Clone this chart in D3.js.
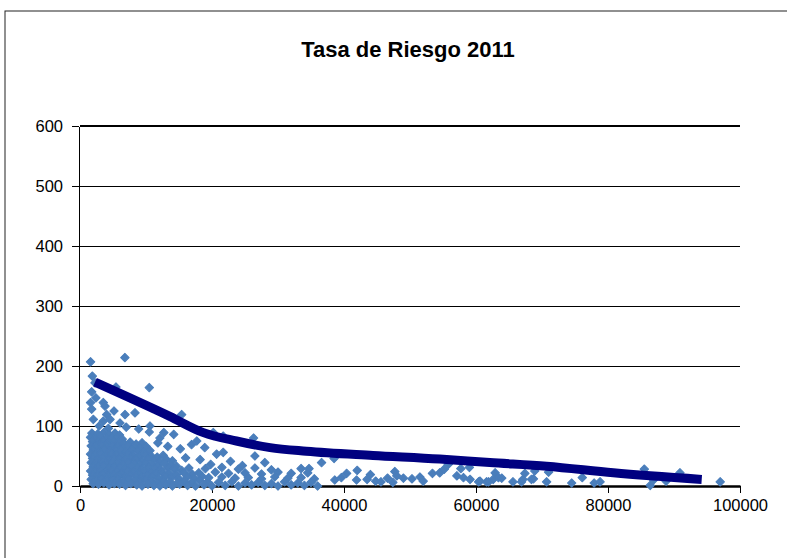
<!DOCTYPE html>
<html>
<head>
<meta charset="utf-8">
<script src="https://cdn.jsdelivr.net/npm/d3@7"></script>
<style>
  body { margin: 0; background: #fff; }
  text { font-family: "Liberation Sans", Arial, sans-serif; }
</style>
</head>
<body>
<div id="chart"></div>
<script>
const W = 787, H = 558;

const punto = "#4a7ebb";
const linea = "#000080";

const titulo = "Tasa de Riesgo 2011";
const ticksX = [0, 20000, 40000, 60000, 80000, 100000];
const ticksY = [0, 100, 200, 300, 400, 500, 600];

// scatter points [poblacion, tasa]
const puntos = [
  // sueltos arriba
  [1600,207],[6800,214],[1870,183],[2270,172],[1770,157],[2400,147],[1600,139],[3530,139],
  [3790,133],[5450,165],[10500,164],[1770,128],[4040,119],[5150,125],[6820,119],[8330,122],
  [2020,111],[3530,108],[4550,111],[6060,105],[10600,100],[2900,100],[4300,96],[7000,98],
  [8900,95],[10500,90],[12700,89],[14200,86],[15400,119],[20200,89],[21700,83],[26300,80],
  [16900,69],[17700,75],[18900,64],[20700,53],[21700,56],[26500,50],[28000,39],[16000,47],
  [18200,44],[22800,41],[24600,34],[19800,36],[15200,62],[13300,66],[11800,72],[12100,80],
  // bloque denso
  [1800,88],[2700,87],[3600,89],[4400,86],[5300,88],[6000,85],
  [1600,81],[2300,80],[3100,82],[4000,79],[4800,81],[5600,80],[6400,78],
  [1900,74],[2800,73],[3500,75],[4300,72],[5100,74],[5900,73],[6700,71],[7600,73],[8500,70],[9400,72],
  [1700,67],[2500,66],[3300,68],[4100,65],[4900,67],[5700,66],[6500,64],[7300,67],[8200,65],[9100,63],[10000,66],
  [2000,60],[2900,59],[3700,61],[4600,58],[5400,60],[6200,59],[7000,57],[7900,60],[8800,58],[9700,56],[10600,59],
  [1600,53],[2400,52],[3200,54],[4000,51],[4800,53],[5600,52],[6400,50],[7300,53],[8100,51],[9000,49],[9900,52],[10800,50],[11700,48],[12600,51],
  [1900,46],[2700,45],[3500,47],[4400,44],[5200,46],[6000,45],[6800,43],[7700,46],[8500,44],[9400,42],[10300,45],[11200,43],[12100,41],[13100,44],[14000,42],
  [1700,39],[2500,38],[3300,40],[4100,37],[4900,39],[5800,38],[6600,36],[7400,39],[8300,37],[9100,35],[10000,38],[10900,36],[11800,34],[12800,37],[13700,35],[14600,33],
  [2000,32],[2800,31],[3600,33],[4500,30],[5300,32],[6100,31],[6900,29],[7800,32],[8700,30],[9500,28],[10400,31],[11300,29],[12200,27],[13300,30],[14300,28],[15400,26],
  [1600,25],[2400,24],[3200,26],[4000,23],[4800,25],[5600,24],[6400,22],[7200,25],[8100,23],[9000,21],[9800,24],[10700,22],[11600,20],[12500,23],[13500,21],[14600,19],[15800,22],[17000,20],
  [1900,18],[2700,17],[3500,19],[4300,16],[5100,18],[5900,17],[6800,15],[7600,18],[8500,16],[9300,14],[10200,17],[11000,15],[11900,13],[12900,16],[13900,14],[15000,12],[16200,15],[17300,13],[18500,16],
  [1700,11],[2500,10],[3300,12],[4100,9],[5000,11],[5800,10],[6600,8],[7400,11],[8300,9],[9100,7],[10000,10],[10800,8],[11700,6],[12600,9],[13600,7],[14700,5],[15800,8],[16900,6],[18100,9],[19300,7],
  [2000,4],[2800,3],[3600,5],[4400,2],[5200,4],[6000,3],[6900,1],[7700,4],[8600,2],[9400,0],[10300,3],[11200,1],[12100,0],[13000,2],[14000,0],[15100,3],[16300,1],[17500,0],[18800,2],[20000,0],
  // banda baja 15000-36000
  [16500,30],[19000,29],[21500,31],[24000,28],[26500,30],[29000,27],[33500,29],
  [18000,22],[20500,23],[22500,21],[25000,22],[27500,20],[30000,23],[32000,21],[34500,22],
  [19500,14],[21500,15],[23500,13],[25500,14],[27500,12],[29500,15],[31500,13],[33500,14],[35500,12],
  [21000,6],[23000,7],[25000,5],[27000,6],[29000,4],[31000,7],[33000,5],[35000,6],
  [22000,1],[24000,0],[26000,2],[28000,1],[30000,0],[32000,2],[34000,1],[36000,0],
  // lejanos
  [36600,39],[38500,46],[34700,29],[40400,21],[39600,14],[38600,10],[41900,10],[43500,11],
  [44800,8],[45600,7],[46600,13],[47700,24],[48000,17],[49000,13],[50300,12],[51500,15],
  [47400,6],[53400,21],[54500,22],[55200,28],[55800,36],[57700,29],[59000,31],[57100,17],
  [58100,14],[59100,11],[60400,7],[61600,7],[60600,8],[61900,7],[62900,22],[62600,11],
  [63400,14],[63900,13],[65600,7],[66900,7],[67400,21],[67100,11],[68400,11],[68900,25],
  [68700,12],[71000,23],[70700,7],[74500,5],[76100,14],[77900,5],[78800,7],[85500,28],
  [86400,1],[86900,10],[88800,8],[90900,22],[97000,7],[42000,26],[44000,19],[52000,8]
];

// linea de tendencia
const tendX = [2270, 13600, 18700, 23700, 28800, 34300, 44400, 54500, 62100, 70700, 80800, 94200];
const tendY = [173, 116, 89, 75, 64, 58, 51, 45, 39, 33, 22, 11];

const svg = d3.select("#chart").append("svg").attr("width", W).attr("height", H);

svg.append("rect")
  .attr("x", 5).attr("y", 11)
  .attr("width", W).attr("height", H)
  .attr("fill", "#fff")
  .attr("stroke", "#222").attr("stroke-width", 1);

const x = d3.scaleLinear().domain([0, 100000]).range([80, 740]);
const y = d3.scaleLinear().domain([0, 600]).range([486, 126]);

// title
svg.append("text")
  .attr("x", 408).attr("y", 57)
  .attr("text-anchor", "middle")
  .attr("font-size", 22).attr("font-weight", "bold")
  .text(titulo);

// gridlines
svg.append("g").selectAll("line")
  .data(ticksY.filter(d => d > 0))
  .join("line")
  .attr("x1", 80).attr("x2", 740)
  .attr("y1", d => y(d)).attr("y2", d => y(d))
  .attr("stroke", "#000")
  .attr("stroke-width", d => d === 600 ? 2 : 1)
  .attr("shape-rendering", "crispEdges");

// y axis
const yAxis = svg.append("g")
  .attr("transform", "translate(79,0)")
  .call(d3.axisLeft(y).tickValues(ticksY).tickSize(7).tickPadding(9).tickSizeOuter(0));
yAxis.selectAll("text").attr("font-size", 16.5).attr("fill", "#000");
yAxis.selectAll("line, path").attr("stroke", "#000").attr("shape-rendering", "crispEdges");

// x axis
const xAxis = svg.append("g")
  .attr("transform", "translate(0,486)")
  .call(d3.axisBottom(x).tickValues(ticksX).tickFormat(d3.format("d")).tickSize(7).tickPadding(6).tickSizeOuter(0));
xAxis.selectAll("text").attr("font-size", 16.5).attr("fill", "#000");
xAxis.selectAll("line").attr("stroke", "#000");
xAxis.select("path").attr("stroke", "#000").attr("stroke-width", 2.5);

// scatter
const marca = d3.symbol().type(d3.symbolSquare).size(36);
svg.append("g").selectAll("path")
  .data(puntos)
  .join("path")
  .attr("d", marca)
  .attr("transform", d => `translate(${x(d[0])},${y(d[1])}) rotate(45)`)
  .attr("fill", punto)
  .attr("stroke", punto).attr("stroke-width", 1).attr("stroke-linejoin", "round");

// trend
const tend = tendX.map((v, i) => [v, tendY[i]]);
svg.append("path")
  .datum(tend)
  .attr("d", d3.line().x(d => x(d[0])).y(d => y(d[1])).curve(d3.curveMonotoneX))
  .attr("fill", "none")
  .attr("stroke", linea)
  .attr("stroke-width", 9);
</script>
</body>
</html>
